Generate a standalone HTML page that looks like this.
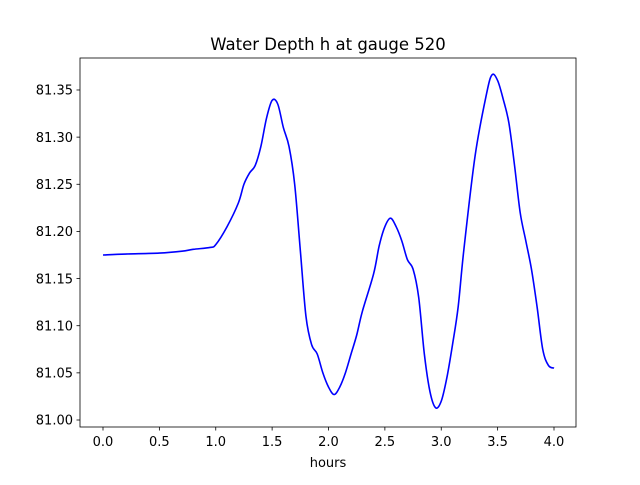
<!DOCTYPE html>
<html><head><meta charset="utf-8"><style>
body{margin:0;background:#fff;}
svg text{font-family:"DejaVu Sans","Liberation Sans",sans-serif;fill:#000;}
</style></head><body>
<svg id="chart" width="640" height="480">
<rect width="640" height="480" fill="#fff"/>
<text x="328" y="50" font-size="16.5" text-anchor="middle">Water Depth h at gauge 520</text>
<g id="xt"></g><g id="yt"></g>
<path id="line" fill="none" stroke="#0000ff" stroke-width="1.6" stroke-linejoin="round"/>
<rect x="80" y="58" width="496" height="369" fill="none" stroke="#000" stroke-width="0.8"/>
<text x="328" y="467" font-size="13" text-anchor="middle">hours</text>
</svg>
<script>
const xs=[0,0.2,0.5,0.7,0.8,0.95,1.0,1.1,1.2,1.25,1.3,1.35,1.4,1.45,1.5,1.55,1.6,1.65,1.7,1.75,1.8,1.85,1.9,1.95,2.0,2.05,2.1,2.15,2.2,2.25,2.3,2.4,2.45,2.5,2.55,2.6,2.65,2.7,2.75,2.8,2.85,2.9,2.95,3.0,3.05,3.1,3.15,3.2,3.3,3.4,3.45,3.5,3.55,3.6,3.65,3.7,3.75,3.8,3.85,3.9,3.95,4.0];
const ys=[81.175,81.176,81.177,81.179,81.181,81.183,81.186,81.205,81.23,81.25,81.262,81.27,81.29,81.32,81.339,81.335,81.31,81.29,81.25,81.18,81.11,81.08,81.07,81.05,81.035,81.027,81.035,81.05,81.07,81.09,81.115,81.155,81.185,81.205,81.214,81.205,81.19,81.17,81.16,81.13,81.07,81.03,81.013,81.02,81.045,81.08,81.12,81.18,81.28,81.345,81.366,81.36,81.34,81.315,81.27,81.22,81.19,81.16,81.12,81.075,81.058,81.055];
const xTicks=["0.0","0.5","1.0","1.5","2.0","2.5","3.0","3.5","4.0"];
const yTicks=["81.00","81.05","81.10","81.15","81.20","81.25","81.30","81.35"];
const X=v=>103+v*112.75, Y=v=>420-(v-81)*942.9;
const NS="http://www.w3.org/2000/svg";
const xt=document.getElementById('xt'), yt=document.getElementById('yt');
xTicks.forEach(t=>{const x=X(+t);
 const l=document.createElementNS(NS,'line');l.setAttribute('x1',x);l.setAttribute('x2',x);l.setAttribute('y1',427);l.setAttribute('y2',430.5);l.setAttribute('stroke','#000');l.setAttribute('stroke-width','0.8');
 
 
 xt.appendChild(l);
 const s=document.createElementNS(NS,'text');s.setAttribute('x',x);s.setAttribute('y',446);s.setAttribute('font-size','13');s.setAttribute('text-anchor','middle');s.textContent=t;
 
 
 xt.appendChild(s);});
yTicks.forEach(t=>{const y=Y(+t);
 const l=document.createElementNS(NS,'line');l.setAttribute('x1',76.5);l.setAttribute('x2',80);l.setAttribute('y1',y);l.setAttribute('y2',y);l.setAttribute('stroke','#000');l.setAttribute('stroke-width','0.8');
 
 
 yt.appendChild(l);
 const s=document.createElementNS(NS,'text');s.setAttribute('x',73);s.setAttribute('y',y+4.7);s.setAttribute('font-size','13');s.setAttribute('text-anchor','end');s.textContent=t;
 
 
 yt.appendChild(s);});
const P=xs.map((x,i)=>[X(x),Y(ys[i])]);
let d='M'+P[0][0]+','+P[0][1];
for(let i=0;i<P.length-1;i++){const p0=P[Math.max(0,i-1)],p1=P[i],p2=P[i+1],p3=P[Math.min(P.length-1,i+2)];
 d+=' C'+(p1[0]+(p2[0]-p0[0])/6)+','+(p1[1]+(p2[1]-p0[1])/6)+' '+(p2[0]-(p3[0]-p1[0])/6)+','+(p2[1]-(p3[1]-p1[1])/6)+' '+p2[0]+','+p2[1];}
document.getElementById('line').setAttribute('d',d);
</script>
</body></html>
